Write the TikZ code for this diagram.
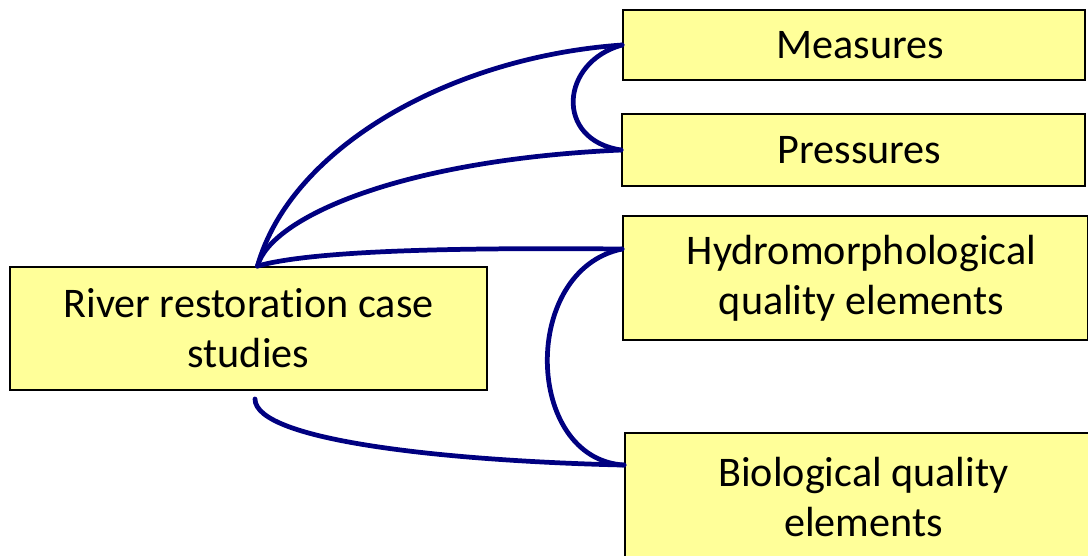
\documentclass[tikz,border=0pt]{standalone}
\usepackage{fontspec}
\setmainfont{Carlito}[Ligatures=NoCommon]
\usetikzlibrary{positioning}
\definecolor{boxfill}{RGB}{255,255,153}
\definecolor{linkblue}{RGB}{0,0,128}

\begin{document}
\begin{tikzpicture}[x=0.02cm, y=-0.02cm,
    box/.style={rectangle, draw, line width=1.1pt, fill=boxfill, align=center,
        font=\fontsize{24}{28.5}\selectfont, inner sep=0pt},
    link/.style={draw=linkblue, line width=2.7pt, line cap=round}]

  \useasboundingbox (0,0) rectangle (1088,555);

  \node[box, minimum width=9.54cm, minimum height=2.46cm] (R) at (248.5,328.5) {River restoration case\\studies};
  \node[box, minimum width=9.24cm, minimum height=1.4cm] (M) at (854,45) {\hspace{0.24cm}Measures};
  \node[box, minimum width=9.26cm, minimum height=1.44cm] (P) at (853.5,150) {\hspace{0.24cm}Pressures};
  \node[box, minimum width=9.3cm, minimum height=2.48cm] (H) at (855.5,278) {\hspace{0.24cm}Hydromorphological\\\hspace{0.24cm}quality elements};
  \node[box, minimum width=9.3cm, minimum height=2.56cm] (B) at (857.5,497) {\hspace{0.24cm}Biological quality\\\hspace{0.24cm}elements};

  \coordinate (Rtop) at ([xshift=0.18cm]R.north);
  \coordinate (Rbot) at ([xshift=0.13cm,yshift=-0.16cm]R.south);
  \coordinate (Hin) at ([yshift=0.58cm]H.west);
  \coordinate (Bin) at ([yshift=-0.66cm]B.north west);

  \draw[link] (Rtop) .. controls +(33,-118) and +(-172,12) .. (M.west);
  \draw[link] (Rtop) .. controls +(13,-48) and +(-222,10) .. (P.west);
  \draw[link] (Rtop) .. controls +(63,-18) and +(-122,-1) .. (Hin);
  \draw[link] (Rbot) .. controls +(0,42) and +(-175,-4) .. (Bin);
  \draw[link] (M.west) .. controls +(-62,17) and +(-67,-10) .. (P.west);
  \draw[link] (Hin) .. controls +(-102,21) and +(-100,-6) .. (Bin);
\end{tikzpicture}
\end{document}
